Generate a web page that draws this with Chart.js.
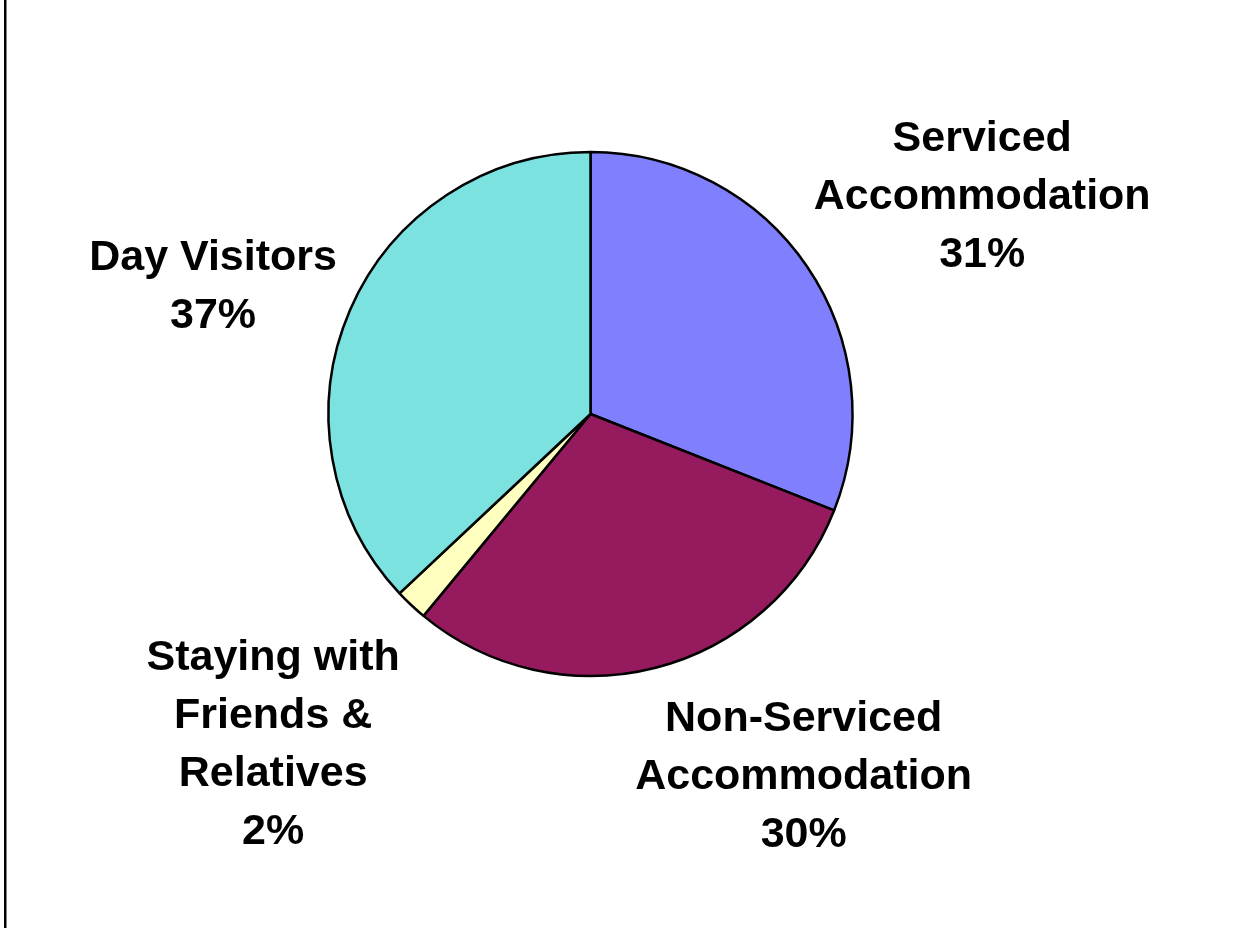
<!DOCTYPE html>
<html>
<head>
<meta charset="utf-8">
<title>Visitor share by accommodation type</title>
<script src="https://cdn.jsdelivr.net/npm/chart.js@4/dist/chart.umd.min.js"></script>
<style>
  html, body { margin: 0; padding: 0; background: #fff; }
  #wrap { position: relative; width: 1247px; height: 928px; }
</style>
</head>
<body>
<div id="wrap"><canvas id="pie-chart" width="1247" height="928"></canvas></div>
<script>
// Visitor segments, clockwise from 12 o'clock
const categories = [
  ['Serviced', 'Accommodation'],
  ['Non-Serviced', 'Accommodation'],
  ['Staying with', 'Friends &', 'Relatives'],
  ['Day Visitors']
];
const shares = [31, 30, 2, 37];
const sliceColors = ['#8080FF', '#961A5E', '#FFFFC0', '#7BE2E0'];

// where each label block sits, relative to its slice's outer mid-point
const labelOffsets = [[175, -70], [148, 109], [-138, 140], [-137, -23]];

const FONT = 'bold 43px "Liberation Sans", Arial, sans-serif';
const LINE_H = 58;

// thin rule down the left side of the page
const leftRule = {
  id: 'leftRule',
  beforeDraw(chart) {
    const { ctx, height } = chart;
    ctx.save();
    ctx.fillStyle = '#000';
    ctx.fillRect(4, 0, 2.5, height);
    ctx.restore();
  }
};

// category name + percentage beside each slice
const sliceLabels = {
  id: 'sliceLabels',
  afterDatasetsDraw(chart) {
    const { ctx } = chart;
    const meta = chart.getDatasetMeta(0);
    ctx.save();
    ctx.font = FONT;
    ctx.fillStyle = '#000';
    ctx.textAlign = 'center';
    ctx.textBaseline = 'middle';
    meta.data.forEach((arc, i) => {
      const { x, y, startAngle, endAngle, outerRadius } = arc.getProps(
        ['x', 'y', 'startAngle', 'endAngle', 'outerRadius'], true);
      const mid = (startAngle + endAngle) / 2;
      const ox = x + Math.cos(mid) * outerRadius + labelOffsets[i][0];
      const oy = y + Math.sin(mid) * outerRadius + labelOffsets[i][1];
      const lines = categories[i].concat([shares[i] + '%']);
      const top = oy - (lines.length - 1) * LINE_H / 2;
      lines.forEach((t, k) => ctx.fillText(t, ox, top + k * LINE_H));
    });
    ctx.restore();
  }
};

const ctx = document.getElementById('pie-chart');
new Chart(ctx, {
  type: 'pie',
  data: {
    labels: categories.map(c => c.join(' ')),
    datasets: [{
      data: shares,
      backgroundColor: sliceColors,
      borderColor: '#000',
      borderWidth: 2.5,
      radius: 262
    }]
  },
  options: {
    responsive: false,
    animation: false,
    layout: { padding: { left: 0, right: 66, top: 0, bottom: 100 } },
    plugins: {
      legend: { display: false },
      tooltip: { enabled: false }
    }
  },
  plugins: [leftRule, sliceLabels]
});
</script>
</body>
</html>
